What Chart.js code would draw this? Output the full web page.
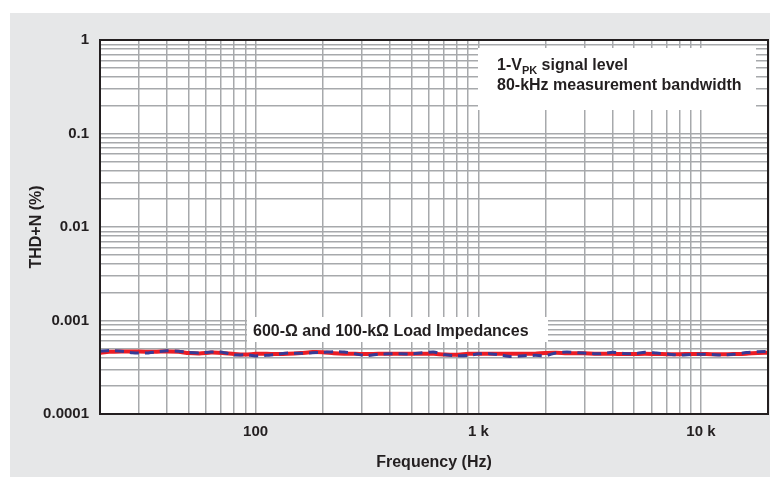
<!DOCTYPE html>
<html>
<head>
<meta charset="utf-8">
<title>THD+N vs Frequency</title>
<script src="https://cdn.jsdelivr.net/npm/chart.js@4.4.1/dist/chart.umd.min.js"></script>
<style>
  html, body { margin: 0; padding: 0; background: #ffffff; overflow: hidden; }
  #wrap { width: 770px; height: 477px; }
  canvas { display: block; }
</style>
</head>
<body>
<div id="wrap"><canvas id="thdChart" width="770" height="477"></canvas></div>
<script>
// frequency points (Hz)
const freqs = [20, 22, 25, 28, 32, 36, 40, 45, 50, 56,
    63, 71, 80, 90, 100, 112, 125, 140, 160, 180,
    200, 224, 250, 280, 315, 355, 400, 450, 500, 560,
    630, 710, 800, 900, 1000, 1120, 1250, 1400, 1600, 1800,
    2000, 2240, 2500, 2800, 3150, 3550, 4000, 4500, 5000, 5600,
    6300, 7100, 8000, 9000, 10000, 11200, 12500, 14000, 16000, 18000,
    20000];

// THD+N (%) - red solid trace
const thdRed = [0.000452, 0.000462, 0.000466, 0.000466, 0.000464, 0.000464, 0.000466, 0.000462, 0.000448, 0.000443,
    0.000454, 0.000450, 0.000438, 0.000432, 0.000440, 0.000440, 0.000438, 0.000440, 0.000448, 0.000460,
    0.000458, 0.000446, 0.000440, 0.000440, 0.000438, 0.000440, 0.000440, 0.000440, 0.000440, 0.000442,
    0.000440, 0.000432, 0.000430, 0.000440, 0.000442, 0.000442, 0.000440, 0.000440, 0.000440, 0.000442,
    0.000450, 0.000452, 0.000446, 0.000446, 0.000444, 0.000440, 0.000440, 0.000438, 0.000438, 0.000440,
    0.000438, 0.000436, 0.000436, 0.000438, 0.000438, 0.000436, 0.000436, 0.000438, 0.000442, 0.000450,
    0.000452];

// THD+N (%) - blue dashed trace
const thdBlue = [0.000470, 0.000478, 0.000470, 0.000452, 0.000448, 0.000462, 0.000474, 0.000470, 0.000456, 0.000450,
    0.000460, 0.000458, 0.000428, 0.000430, 0.000418, 0.000424, 0.000436, 0.000448, 0.000446, 0.000452,
    0.000456, 0.000464, 0.000460, 0.000440, 0.000420, 0.000436, 0.000442, 0.000440, 0.000440, 0.000452,
    0.000460, 0.000430, 0.000420, 0.000422, 0.000440, 0.000442, 0.000430, 0.000412, 0.000420, 0.000424,
    0.000420, 0.000452, 0.000460, 0.000452, 0.000446, 0.000440, 0.000458, 0.000444, 0.000440, 0.000458,
    0.000448, 0.000438, 0.000426, 0.000432, 0.000436, 0.000432, 0.000428, 0.000436, 0.000454, 0.000464,
    0.000466];

// grid / tick positions and labels
const xTicks = [20, 30, 40, 50, 60, 70, 80, 90, 100, 200, 300, 400, 500, 600, 700, 800, 900,
    1000, 2000, 3000, 4000, 5000, 6000, 7000, 8000, 9000, 10000, 20000];
const xTickLabels = ['', '', '', '', '', '', '', '', '100', '', '', '', '', '', '', '', '',
    '1 k', '', '', '', '', '', '', '', '', '10 k', ''];
const yTicks = [0.0001, 0.0002, 0.0003, 0.0004, 0.0005, 0.0006, 0.0007, 0.0008, 0.0009,
    0.001, 0.002, 0.003, 0.004, 0.005, 0.006, 0.007, 0.008, 0.009,
    0.01, 0.02, 0.03, 0.04, 0.05, 0.06, 0.07, 0.08, 0.09,
    0.1, 0.2, 0.3, 0.4, 0.5, 0.6, 0.7, 0.8, 0.9, 1];
const yTickLabels = ['0.0001', '', '', '', '', '', '', '', '',
    '0.001', '', '', '', '', '', '', '', '',
    '0.01', '', '', '', '', '', '', '', '',
    '0.1', '', '', '', '', '', '', '', '', '1'];

const textColor = '#231f20';
const gridColor = '#a7a9ac';
const fontFamily = "'Liberation Sans', Arial, sans-serif";

function toPoints(values) {
    return freqs.map((f, i) => ({ x: f, y: values[i] }));
}

// keep the plot area exactly where the axes boxes put it
function noScalePadding(scale) {
    scale.paddingLeft = 0;
    scale.paddingRight = 0;
    scale.paddingTop = 0;
    scale.paddingBottom = 0;
}

// grey panel behind everything, white plot area
const panelPlugin = {
    id: 'panel',
    beforeDraw(chart) {
        const { ctx, chartArea: a } = chart;
        ctx.save();
        ctx.fillStyle = '#e6e7e8';
        ctx.fillRect(10, 13, chart.width - 10, chart.height - 13);
        ctx.fillStyle = '#ffffff';
        ctx.fillRect(a.left, a.top, a.right - a.left, a.bottom - a.top);
        ctx.restore();
    }
};

// note boxes on the plot, frame round it
const notesPlugin = {
    id: 'notes',
    beforeDatasetsDraw(chart) {
        const { ctx, chartArea: a } = chart;
        ctx.save();
        ctx.fillStyle = '#ffffff';
        ctx.fillRect(a.left + 378, a.top + 8, 278, 62);
        ctx.fillRect(a.left + 147, a.top + 277, 301, 25);

        ctx.fillStyle = textColor;
        ctx.textBaseline = 'alphabetic';
        ctx.textAlign = 'left';
        const big = 'bold 16px ' + fontFamily;
        const small = 'bold 11px ' + fontFamily;

        // 1-V_PK signal level
        let x = a.left + 397;
        const y1 = a.top + 30;
        ctx.font = big;
        ctx.fillText('1-V', x, y1);
        x += ctx.measureText('1-V').width;
        ctx.font = small;
        ctx.fillText('PK', x, y1 + 4);
        x += ctx.measureText('PK').width;
        ctx.font = big;
        ctx.fillText(' signal level', x, y1);

        ctx.fillText('80-kHz measurement bandwidth', a.left + 397, a.top + 50);
        ctx.fillText('600-\u03A9 and 100-k\u03A9 Load Impedances', a.left + 153, a.top + 296);
        ctx.restore();
    },
    afterDatasetsDraw(chart) {
        const { ctx, chartArea: a } = chart;
        ctx.save();
        ctx.strokeStyle = textColor;
        ctx.lineWidth = 2;
        ctx.strokeRect(a.left, a.top, a.right - a.left, a.bottom - a.top);
        ctx.restore();
    }
};

new Chart(document.getElementById('thdChart'), {
    type: 'line',
    data: {
        datasets: [
            {
                label: '100-k\u03A9 Load',
                data: toPoints(thdBlue),
                borderColor: '#363a96',
                borderWidth: 3,
                borderDash: [9, 6],
                pointRadius: 0,
                tension: 0.2,
                fill: false
            },
            {
                label: '600-\u03A9 Load',
                data: toPoints(thdRed),
                borderColor: '#ec1c24',
                borderWidth: 4,
                pointRadius: 0,
                tension: 0.2,
                fill: false
            }
        ]
    },
    options: {
        responsive: false,
        animation: false,
        layout: { padding: { left: 10, top: 40, right: 2, bottom: 0 } },
        plugins: {
            legend: { display: false },
            tooltip: { enabled: false }
        },
        scales: {
            x: {
                type: 'logarithmic',
                min: 20,
                max: 20000,
                afterBuildTicks: scale => { scale.ticks = xTicks.map(v => ({ value: v })); },
                afterFit: scale => { scale.height = 63; noScalePadding(scale); },
                grid: { color: gridColor, lineWidth: 1.5, drawTicks: false },
                border: { display: false },
                ticks: {
                    autoSkip: false,
                    maxRotation: 0,
                    padding: 9,
                    color: textColor,
                    font: { family: fontFamily, size: 15, weight: 'bold' },
                    callback: (value, i) => xTickLabels[i]
                },
                title: {
                    display: true,
                    text: 'Frequency (Hz)',
                    color: textColor,
                    font: { family: fontFamily, size: 16, weight: 'bold' },
                    padding: { top: 0, bottom: 5 }
                }
            },
            y: {
                type: 'logarithmic',
                min: 0.0001,
                max: 1,
                afterBuildTicks: scale => { scale.ticks = yTicks.map(v => ({ value: v })); },
                afterFit: scale => { scale.width = 90; noScalePadding(scale); },
                grid: { color: gridColor, lineWidth: 1.5, drawTicks: false },
                border: { display: false },
                ticks: {
                    autoSkip: false,
                    padding: 11,
                    color: textColor,
                    font: { family: fontFamily, size: 15, weight: 'bold' },
                    callback: (value, i) => yTickLabels[i]
                },
                title: {
                    display: true,
                    text: 'THD+N (%)',
                    color: textColor,
                    font: { family: fontFamily, size: 16, weight: 'bold' },
                    padding: { top: 17, bottom: 0 }
                }
            }
        }
    },
    plugins: [panelPlugin, notesPlugin]
});
</script>
</body>
</html>
